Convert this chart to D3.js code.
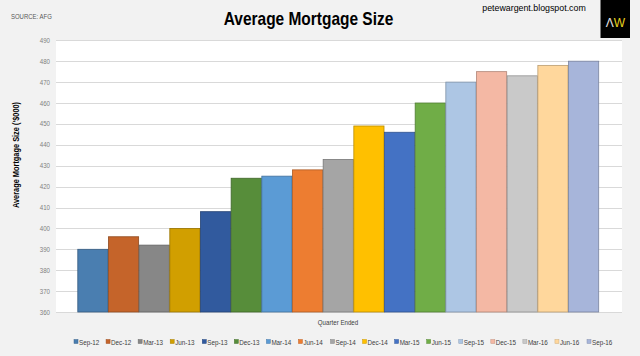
<!DOCTYPE html>
<html><head><meta charset="utf-8">
<script src="https://cdn.jsdelivr.net/npm/d3@7"></script>
<style>
html,body{margin:0;padding:0;background:#f2f2f2;}
svg{display:block;}
text{font-family:"Liberation Sans",Arial,sans-serif;}
</style></head>
<body>
<svg id="chart" width="640" height="356"></svg>
<script>
const categories = ["Sep-12","Dec-12","Mar-13","Jun-13","Sep-13","Dec-13","Mar-14","Jun-14","Sep-14","Dec-14","Mar-15","Jun-15","Sep-15","Dec-15","Mar-16","Jun-16","Sep-16"];
const values = [390,396,392,400,408,424,425,428,433,449,446,460,470,475,473,478,480];
const colors = ["#4a7eb0","#c5642a","#878787","#d19f00","#315a9e","#578d3a","#5b9bd5","#ed7d31","#a5a5a5","#ffc000","#4472c4","#70ad47","#adc6e4","#f4b8a4","#c9c9c9","#ffd79c","#a7b5da"];
const yTicks = [360,370,380,390,400,410,420,430,440,450,460,470,480,490];

const svg = d3.select("#chart");
const plot = {x0:56, x1:622, y0:40, y1:313};

svg.append("rect").attr("width",640).attr("height",356).attr("fill","#f2f2f2");
svg.append("rect").attr("x",plot.x0).attr("y",plot.y0).attr("width",plot.x1-plot.x0).attr("height",plot.y1-plot.y0).attr("fill","#ffffff");

const y = d3.scaleLinear().domain([360,490]).range([312,40.3]);
const x = d3.scaleBand().domain(categories).range([77.3,598.7]).paddingInner(0).paddingOuter(0);

// narrow text helper
function ntext(g, tx, ty, sx, str){
  return g.append("text").attr("transform",`translate(${tx},${ty}) scale(${sx},1)`).text(str);
}

// gridlines
svg.append("g").selectAll("line").data(yTicks).join("line")
  .attr("x1",plot.x0).attr("x2",plot.x1)
  .attr("y1",d=>Math.round(y(d))+0.5).attr("y2",d=>Math.round(y(d))+0.5)
  .attr("stroke","#d9d9d9").attr("stroke-width",1);

// y tick labels
svg.append("g").selectAll("text").data(yTicks).join("text")
  .attr("transform",d=>`translate(50,${y(d)+2.5}) scale(0.88,1)`)
  .attr("text-anchor","end").attr("fill","#7f7f7f").style("font-size","7px")
  .text(d=>d3.format("d")(d));

// bars
svg.append("g").selectAll("rect").data(values).join("rect")
  .attr("x",(d,i)=>x(categories[i])+0.5)
  .attr("y",d=>y(d))
  .attr("width",x.bandwidth()-0.5)
  .attr("height",d=>y(360)-y(d))
  .attr("fill",(d,i)=>colors[i])
  .attr("stroke",(d,i)=>d3.color(colors[i]).darker(0.9))
  .attr("stroke-width",0.8);

// titles
ntext(svg,308.5,25,0.86,"Average Mortgage Size").attr("text-anchor","middle")
  .style("font-size","18px").style("font-weight","bold").attr("fill","#000");
ntext(svg,11,19,0.95,"SOURCE: AFG").style("font-size","6.3px").attr("fill","#595959");
ntext(svg,534,11,0.95,"petewargent.blogspot.com").attr("text-anchor","middle").style("font-size","9.3px").attr("fill","#000");

// logo
svg.append("rect").attr("x",600.5).attr("y",0).attr("width",29.5).attr("height",38).attr("fill","#000");
const logo = svg.append("text").attr("x",615.3).attr("y",27).attr("text-anchor","middle").style("font-size","12px");
logo.append("tspan").attr("fill","#e6e6e6").text("Λ");
logo.append("tspan").attr("fill","#e8d21d").text("W");

// y title
svg.append("text").attr("transform","translate(18.5,155) rotate(-90) scale(0.87,1)").attr("text-anchor","middle")
  .style("font-size","8.5px").style("font-weight","bold").attr("fill","#000").text("Average Mortgage Size ('$000)");

// x title
ntext(svg,338,325,0.88,"Quarter Ended").attr("text-anchor","middle").style("font-size","7px").attr("fill","#404040");

// legend
const lx = d3.scalePoint().domain(categories).range([74,587]);
const lg = svg.append("g").selectAll("g").data(categories).join("g")
  .attr("transform",d=>`translate(${lx(d)},343)`);
lg.append("rect").attr("x",0).attr("y",-3.5).attr("width",4).attr("height",4)
  .attr("fill",(d,i)=>colors[i]).attr("stroke",(d,i)=>d3.color(colors[i]).darker(0.6)).attr("stroke-width",0.5);
lg.append("text").attr("transform","translate(5,1.5) scale(0.9,1)").style("font-size","7px").attr("fill","#404040").text(d=>d);
</script>
</body></html>
